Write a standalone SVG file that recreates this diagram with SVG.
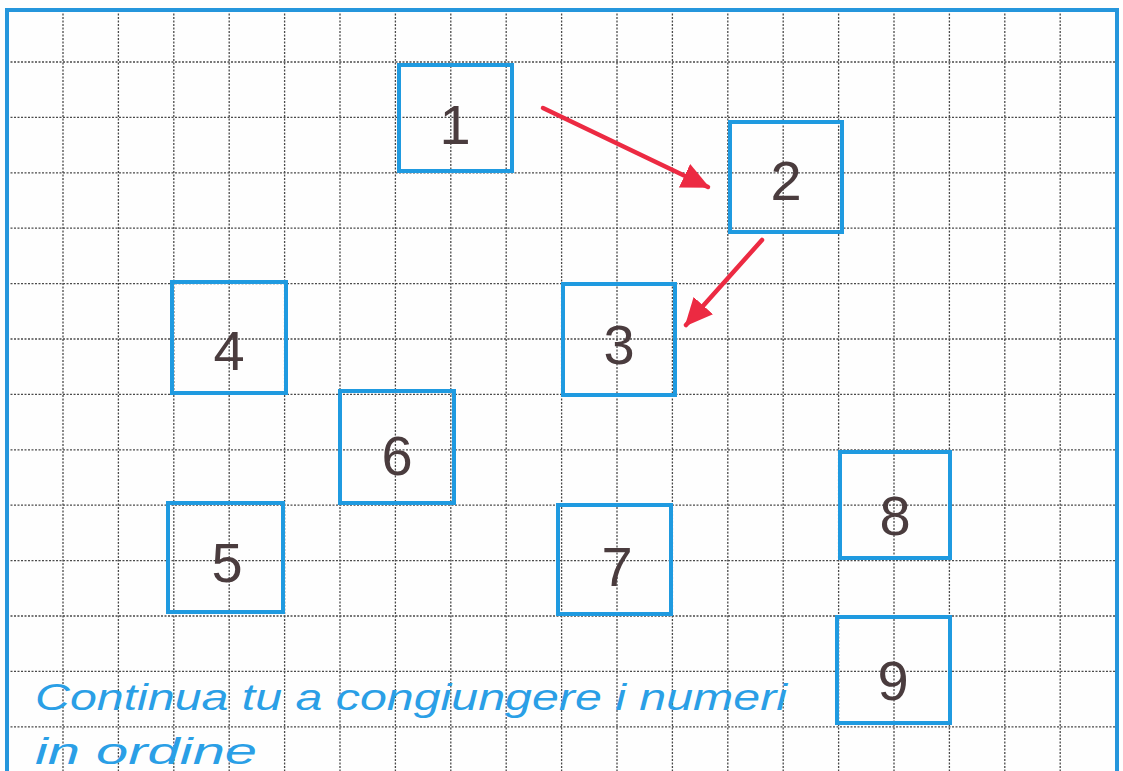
<svg xmlns="http://www.w3.org/2000/svg" width="1123" height="771" viewBox="0 0 1123 771">
<style>
.grid line{stroke:#4a4a4a;stroke-width:1.3;stroke-dasharray:2 1.5}
.box{fill:none;stroke:#1f9ae0;stroke-width:4}
.num{font-family:"Liberation Sans",Arial,sans-serif;font-size:56px;fill:#4a3c3e;text-anchor:middle}
.arrow{stroke:#ec2a42;stroke-width:4.5;fill:none;stroke-linecap:round}
.note{font-family:"Liberation Sans",Arial,sans-serif;font-style:italic;font-size:36px;fill:#2a9fe6}
</style>
<defs>
<marker id="ah" markerUnits="userSpaceOnUse" markerWidth="30" markerHeight="28" refX="26" refY="13" orient="auto" viewBox="0 0 30 26">
<path d="M0,0 L28,13 L0,26 Z" fill="#ec2a42"/>
</marker>
</defs>
<rect width="1123" height="771" fill="#fefefe"/>
<g class="grid" id="grid">
<line x1="63" y1="10" x2="63" y2="771"/>
<line x1="118.4" y1="10" x2="118.4" y2="771"/>
<line x1="173.8" y1="10" x2="173.8" y2="771"/>
<line x1="229.2" y1="10" x2="229.2" y2="771"/>
<line x1="284.6" y1="10" x2="284.6" y2="771"/>
<line x1="340" y1="10" x2="340" y2="771"/>
<line x1="395.4" y1="10" x2="395.4" y2="771"/>
<line x1="450.8" y1="10" x2="450.8" y2="771"/>
<line x1="506.2" y1="10" x2="506.2" y2="771"/>
<line x1="561.6" y1="10" x2="561.6" y2="771"/>
<line x1="617" y1="10" x2="617" y2="771"/>
<line x1="672.4" y1="10" x2="672.4" y2="771"/>
<line x1="727.8" y1="10" x2="727.8" y2="771"/>
<line x1="783.2" y1="10" x2="783.2" y2="771"/>
<line x1="838.6" y1="10" x2="838.6" y2="771"/>
<line x1="894" y1="10" x2="894" y2="771"/>
<line x1="949.4" y1="10" x2="949.4" y2="771"/>
<line x1="1004.8" y1="10" x2="1004.8" y2="771"/>
<line x1="1060.2" y1="10" x2="1060.2" y2="771"/>
<line x1="7" y1="62" x2="1117" y2="62"/>
<line x1="7" y1="117.4" x2="1117" y2="117.4"/>
<line x1="7" y1="172.8" x2="1117" y2="172.8"/>
<line x1="7" y1="228.2" x2="1117" y2="228.2"/>
<line x1="7" y1="283.6" x2="1117" y2="283.6"/>
<line x1="7" y1="339" x2="1117" y2="339"/>
<line x1="7" y1="394.4" x2="1117" y2="394.4"/>
<line x1="7" y1="449.8" x2="1117" y2="449.8"/>
<line x1="7" y1="505.2" x2="1117" y2="505.2"/>
<line x1="7" y1="560.6" x2="1117" y2="560.6"/>
<line x1="7" y1="616" x2="1117" y2="616"/>
<line x1="7" y1="671.4" x2="1117" y2="671.4"/>
<line x1="7" y1="726.8" x2="1117" y2="726.8"/>
</g>
<path id="border" d="M7,771 L7,10 L1117,10 L1117,771" fill="none" stroke="#2596dc" stroke-width="4"/>
<g id="n1"><rect class="box" x="399" y="65" width="113" height="106"/><text class="num" x="455" y="144">1</text></g>
<g id="n2"><rect class="box" x="730" y="122" width="112" height="110"/><text class="num" x="786" y="200">2</text></g>
<g id="n3"><rect class="box" x="563" y="284" width="112" height="111"/><text class="num" x="619" y="364">3</text></g>
<g id="n4"><rect class="box" x="172" y="282" width="114" height="111"/><text class="num" x="229" y="370">4</text></g>
<g id="n6"><rect class="box" x="340" y="391" width="114" height="112"/><text class="num" x="397" y="475">6</text></g>
<g id="n5"><rect class="box" x="168" y="503" width="115" height="109"/><text class="num" x="227" y="582">5</text></g>
<g id="n7"><rect class="box" x="558" y="505" width="113" height="109"/><text class="num" x="617" y="586">7</text></g>
<g id="n8"><rect class="box" x="840" y="452" width="110" height="106"/><text class="num" x="895" y="535">8</text></g>
<g id="n9"><rect class="box" x="837" y="617" width="113" height="106"/><text class="num" x="893" y="700">9</text></g>
<g id="connectors">
<line class="arrow" x1="543" y1="108" x2="708" y2="187" marker-end="url(#ah)"/>
<line class="arrow" x1="762" y1="240" x2="686" y2="325" marker-end="url(#ah)"/>
</g>
<g id="note">
<text class="note" x="35" y="710" textLength="752" lengthAdjust="spacingAndGlyphs">Continua tu a congiungere i numeri</text>
<text class="note" x="35" y="764" textLength="222" lengthAdjust="spacingAndGlyphs">in ordine</text>
</g>
</svg>
